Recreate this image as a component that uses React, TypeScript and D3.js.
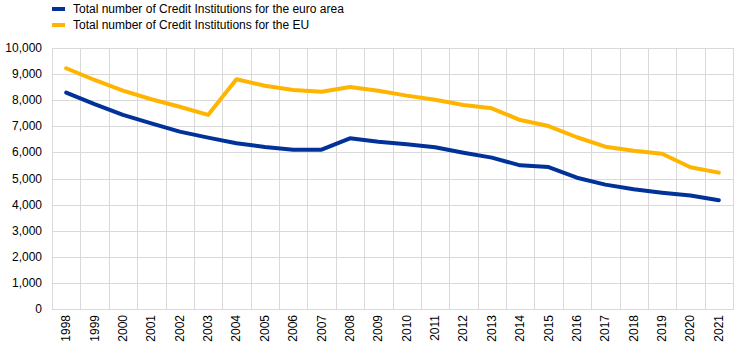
import React from "react";
import * as d3 from "d3";

const years = [
  "1998", "1999", "2000", "2001", "2002", "2003", "2004", "2005", "2006", "2007", "2008", "2009",
  "2010", "2011", "2012", "2013", "2014", "2015", "2016", "2017", "2018", "2019", "2020", "2021",
];
// euro area
const euroArea = [
  8290, 7850, 7440, 7115, 6795, 6565, 6350, 6210, 6105, 6105, 6540, 6410,
  6310, 6195, 5990, 5800, 5505, 5440, 5030, 4765, 4585, 4455, 4345, 4170,
];
// EU
const eu = [
  9225, 8775, 8365, 8035, 7750, 7435, 8800, 8555, 8390, 8325, 8505, 8365,
  8175, 8020, 7815, 7690, 7240, 7010, 6580, 6220, 6065, 5950, 5430, 5225,
];
const yTicks = [0, 1000, 2000, 3000, 4000, 5000, 6000, 7000, 8000, 9000, 10000];
const seriesNames = [
  "Total number of Credit Institutions for the euro area",
  "Total number of Credit Institutions for the EU",
];
const colors = ["#003299", "#FFB400"];

const W = 744;
const H = 351;
const left = 52;
const right = 733;
const top = 48;
const bottom = 309;

const App = () => {
  const x = d3.scaleBand().domain(years).range([left, right]);
  const y = d3.scaleLinear().domain([0, 10000]).range([bottom, top]);
  const fmt = d3.format(",");

  const line = d3
    .line<number>()
    .x((d, i) => (x(years[i]) as number) + x.bandwidth() / 2)
    .y((d) => y(d));

  const bounds = years.map((yr) => x(yr) as number).concat([right]);

  return (
    <svg
      width={W}
      height={H}
      style={{ position: "absolute", left: 0, top: 0, background: "#fff" }}
      fontFamily="'Liberation Sans', Arial, sans-serif"
    >
      {/* grid */}
      {yTicks.map((t) => (
        <line key={"h" + t} x1={left} x2={right} y1={Math.round(y(t)) + 0.5} y2={Math.round(y(t)) + 0.5} stroke="#d9d9d9" strokeWidth={1} />
      ))}
      {bounds.map((b, i) => (
        <line key={"v" + i} x1={Math.round(b) + 0.5} x2={Math.round(b) + 0.5} y1={top} y2={bottom + 1} stroke="#d9d9d9" strokeWidth={1} />
      ))}

      {/* y labels */}
      {yTicks.map((t) => (
        <text key={"yl" + t} x={42} y={y(t) + 4} textAnchor="end" fontSize={12} fill="#000">
          {fmt(t)}
        </text>
      ))}

      {/* x labels */}
      {years.map((yr) => {
        const cx = (x(yr) as number) + x.bandwidth() / 2 + 4;
        return (
          <text key={"xl" + yr} transform={`translate(${cx},315) rotate(-90)`} textAnchor="end" fontSize={12} fill="#000">
            {yr}
          </text>
        );
      })}

      {/* lines */}
      {[euroArea, eu].map((s, i) => (
        <path key={"s" + i} d={line(s) || ""} fill="none" stroke={colors[i]} strokeWidth={4} strokeLinejoin="round" strokeLinecap="round" />
      ))}

      {/* legend */}
      {seriesNames.map((n, i) => (
        <g key={"lg" + i} transform={`translate(52,${9 + i * 16})`}>
          <line x1={0} x2={13} y1={0} y2={0} stroke={colors[i]} strokeWidth={4} />
          <text x={21} y={4.3} fontSize={12} fill="#000">
            {n}
          </text>
        </g>
      ))}
    </svg>
  );
};

export default App;
